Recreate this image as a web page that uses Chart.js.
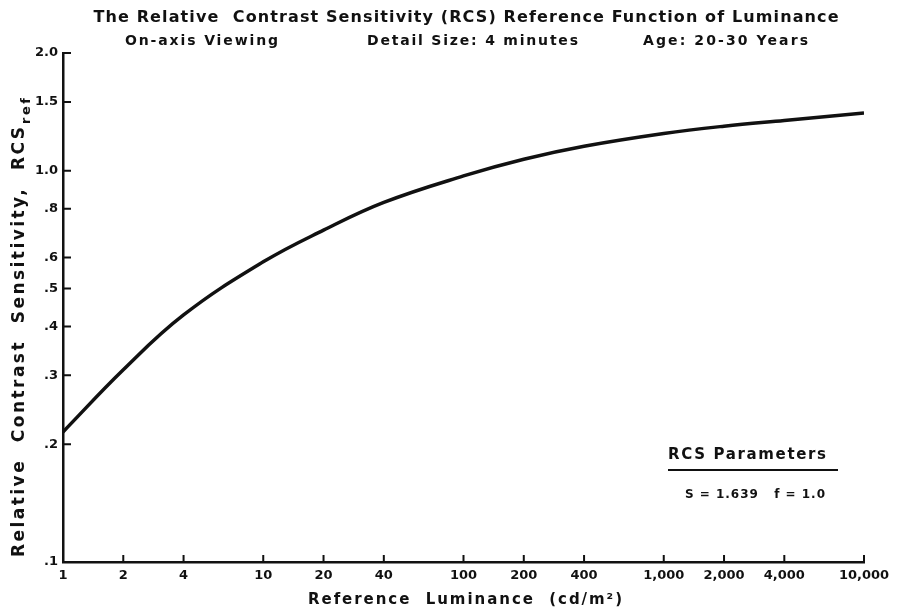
<!DOCTYPE html>
<html>
<head>
<meta charset="utf-8">
<title>RCS Reference Function of Luminance</title>
<script src="https://cdn.jsdelivr.net/npm/chart.js@4.4.1/dist/chart.umd.min.js"></script>
<style>
  html, body { margin: 0; padding: 0; background: #fff; }
  #wrap { width: 899px; height: 614px; position: relative; }
</style>
</head>
<body>
<div id="wrap"><canvas id="rcsChart"></canvas></div>
<script>
  // reference luminance (cd/m2) and the relative contrast sensitivity
  const luminance = [1, 2, 4, 10, 20, 40, 100, 200, 400, 1000, 2000, 4000, 10000];
  const rcsRef = [0.215, 0.31, 0.428, 0.585, 0.705, 0.83, 0.97, 1.07, 1.155, 1.245, 1.30, 1.345, 1.405];

  const xTicks = [1, 2, 4, 10, 20, 40, 100, 200, 400, 1000, 2000, 4000, 10000];
  const xTickLabels = ['1', '2', '4', '10', '20', '40', '100', '200', '400', '1,000', '2,000', '4,000', '10,000'];
  const yTicks = [0.1, 0.2, 0.3, 0.4, 0.5, 0.6, 0.8, 1.0, 1.5, 2.0];
  const yTickLabels = ['.1', '.2', '.3', '.4', '.5', '.6', '.8', '1.0', '1.5', '2.0'];

  const FONT = '"DejaVu Sans", "Liberation Sans", sans-serif';
  const INK = '#111';

  // draw text spread to a given width (old typewriter-style lettering is wide)
  function spreadText(ctx, text, x, y, width, align) {
    ctx.letterSpacing = '0px';
    const w = ctx.measureText(text).width;
    const gap = (width - w) / Math.max(text.length - 1, 1);
    ctx.letterSpacing = gap + 'px';
    ctx.textAlign = 'left';
    let left = x;
    if (align === 'center') left = x - width / 2;
    ctx.fillText(text, left, y);
    ctx.letterSpacing = '0px';
  }

  const annotations = {
    id: 'annotations',
    afterDraw(chart) {
      const ctx = chart.ctx;
      const xs = chart.scales.x, ys = chart.scales.y;
      const area = chart.chartArea;
      ctx.save();
      ctx.fillStyle = INK;
      ctx.strokeStyle = INK;
      ctx.textBaseline = 'middle';

      // inward tick marks
      ctx.lineWidth = 2;
      ctx.beginPath();
      xTicks.forEach(v => {
        const px = xs.getPixelForValue(v);
        ctx.moveTo(px, area.bottom);
        ctx.lineTo(px, area.bottom - 7);
      });
      yTicks.forEach(v => {
        const py = ys.getPixelForValue(v);
        ctx.moveTo(area.left, py);
        ctx.lineTo(area.left + 8, py);
      });
      ctx.stroke();

      // titles
      ctx.font = 'bold 16px ' + FONT;
      spreadText(ctx, 'The Relative  Contrast Sensitivity (RCS) Reference Function of Luminance', 466, 18, 745, 'center');
      ctx.font = 'bold 14px ' + FONT;
      spreadText(ctx, 'On-axis Viewing', 125, 41, 153);
      spreadText(ctx, 'Detail Size: 4 minutes', 367, 41, 211);
      spreadText(ctx, 'Age: 20-30 Years', 643, 41, 165);

      // parameter box
      ctx.font = 'bold 15px ' + FONT;
      spreadText(ctx, 'RCS Parameters', 668, 455, 158);
      ctx.lineWidth = 2;
      ctx.beginPath();
      ctx.moveTo(668, 470);
      ctx.lineTo(838, 470);
      ctx.stroke();
      ctx.font = 'bold 12px ' + FONT;
      spreadText(ctx, 'S = 1.639   f = 1.0', 685, 495, 140);

      // x axis title
      ctx.font = 'bold 15px ' + FONT;
      spreadText(ctx, 'Reference  Luminance  (cd/m\u00b2)', 308, 600, 314);

      // y axis title with subscript
      ctx.translate(20, 557);
      ctx.rotate(-Math.PI / 2);
      ctx.font = 'bold 17px ' + FONT;
      spreadText(ctx, 'Relative  Contrast  Sensitivity,  RCS', 0, 0, 430);
      ctx.font = 'bold 13px ' + FONT;
      spreadText(ctx, 'ref', 433, 7, 26);
      ctx.restore();
    }
  };

  new Chart(document.getElementById('rcsChart'), {
    type: 'line',
    data: {
      datasets: [{
        data: luminance.map((v, i) => ({ x: v, y: rcsRef[i] })),
        borderColor: INK,
        borderWidth: 3.5,
        pointRadius: 0,
        tension: 0.4,
        fill: false
      }]
    },
    options: {
      responsive: true,
      maintainAspectRatio: false,
      animation: false,
      layout: { padding: { left: 23, right: 35, top: 53, bottom: 22 } },
      plugins: { legend: { display: false }, tooltip: { enabled: false } },
      scales: {
        x: {
          type: 'logarithmic',
          min: 1,
          max: 10000,
          afterBuildTicks: scale => { scale.ticks = xTicks.map(v => ({ value: v })); },
          afterFit: scale => { scale.height = 30; },
          grid: { display: false, drawTicks: false },
          border: { display: true, color: INK, width: 2.5 },
          ticks: {
            autoSkip: false,
            maxRotation: 0,
            padding: 6,
            color: INK,
            font: { family: FONT, size: 13, weight: 'bold' },
            callback: (v, i) => xTickLabels[i]
          }
        },
        y: {
          type: 'logarithmic',
          min: 0.1,
          max: 2.0,
          afterBuildTicks: scale => { scale.ticks = yTicks.map(v => ({ value: v })); },
          afterFit: scale => { scale.width = 40; },
          grid: { display: false, drawTicks: false },
          border: { display: true, color: INK, width: 2.5 },
          ticks: {
            autoSkip: false,
            padding: 5,
            color: INK,
            font: { family: FONT, size: 13, weight: 'bold' },
            callback: (v, i) => yTickLabels[i]
          }
        }
      }
    },
    plugins: [annotations]
  });
</script>
</body>
</html>
